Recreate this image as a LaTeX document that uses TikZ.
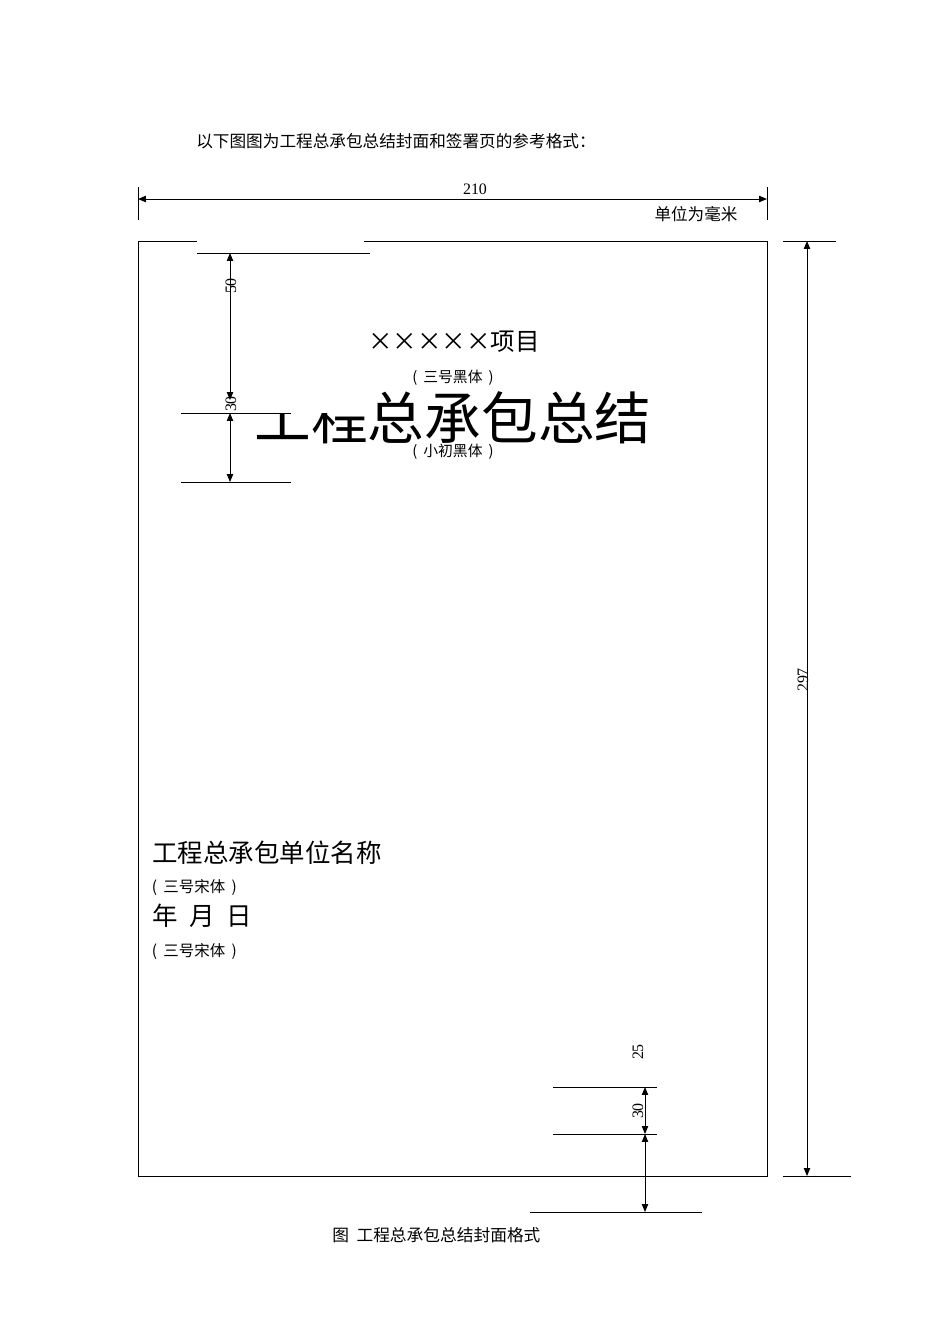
\documentclass[tikz,border=0pt]{standalone}
\usepackage{fontspec}
\setmainfont{Liberation Serif}
\newfontfamily\cjk{Noto Sans CJK SC}
\usetikzlibrary{arrows.meta}

\begin{document}
\begin{tikzpicture}[x=0.628pt,y=-0.628pt,
  tip/.tip={Triangle[length=5pt,width=4pt]},
  rule/.style={line width=0.6pt},
  dimline/.style={line width=0.6pt,tip-tip},
  num/.style={inner sep=0pt,font=\fontsize{10}{12}\selectfont},
  vnum/.style={num,rotate=90},
  cn/.style={inner sep=0pt,font=\cjk\fontsize{#1}{#1}\selectfont}]
  \useasboundingbox (0,0) rectangle (950,1344);
  \def\cx{\makebox[1em]{×}}
  \def\lp{\makebox[0.85em][l]{\hspace{0.1em}(}}
  \def\rp{\makebox[0.85em][r]{)\hspace{0.1em}}}
  % heading and width
  \node[cn=10.45,anchor=west] (intro) at (196,141) {以下图图为工程总承包总结封面和签署页的参考格式：};
  \foreach \i in {138,767} { \draw[rule] (\i,187) -- (\i,220); }
  \coordinate (wl) at (138,199);
  \coordinate (wr) at (767,199);
  \draw[dimline] (wl) -- (wr);
  \node[num] (wlabel) at (475,189) {210};
  \node[cn=10.4] (unit) at (696,214) {单位为毫米};
  % the page
  \draw[rule] (138,241) rectangle (767,1176);
  \node[cn=15.4] (proj) at (454,342) {\cx\cx\cx\cx\cx 项目};
  \node[cn=9.3] (projfont) at (453,378) {\lp 三号黑体\rp};
  \node[cn=35.6] (title) at (453,418) {工程总承包总结};
  \node[cn=9.3] (titlefont) at (453,452) {\lp 小初黑体\rp};
  \fill[white] (197,232) rectangle (364,413);
  % top distances
  \draw[rule] (197,253) -- (370,253);
  \foreach \j in {413,482} { \draw[rule] (181,\j) -- (291,\j); }
  \coordinate (ta) at (230,253);
  \coordinate (tb) at (230,400);
  \coordinate (tc) at (230,413);
  \coordinate (td) at (230,482);
  \draw[dimline] (ta) -- (tb);
  \draw[dimline] (tc) -- (td);
  \node[vnum] (fifty) at (231,286) {50};
  \node[vnum] (thirtya) at (231,404) {30};
  % unit and date
  \node[cn=16,anchor=west] (company) at (152,853) {工程总承包单位名称};
  \node[cn=9.7,anchor=west] (companyfont) at (150,887) {\lp 三号宋体\rp};
  \node[cn=16,anchor=west] (date) at (152,916) {年\hspace{0.45em}月\hspace{0.45em}日};
  \node[cn=9.7,anchor=west] (datefont) at (150,951) {\lp 三号宋体\rp};
  % bottom distances
  \foreach \j in {1087,1134} { \draw[rule] (553,\j) -- (657,\j); }
  \draw[rule] (530,1212) -- (702,1212);
  \coordinate (ba) at (645,1087);
  \coordinate (bb) at (645,1134);
  \coordinate (bc) at (645,1212);
  \draw[dimline] (ba) -- (bb);
  \draw[dimline] (bb) -- (bc);
  \node[vnum] (twentyfive) at (638,1052) {25};
  \node[vnum] (thirtyb) at (638,1111) {30};
  % height
  \draw[rule] (783,241) -- (836,241);
  \draw[rule] (783,1176) -- (851,1176);
  \coordinate (ht) at (807,241);
  \coordinate (hb) at (807,1176);
  \draw[dimline] (ht) -- (hb);
  \node[vnum] (hlabel) at (803,680) {297};
  \node[cn=10.5,anchor=west] (caption) at (332,1235) {图\hspace{0.45em}工程总承包总结封面格式};
\end{tikzpicture}
\end{document}
